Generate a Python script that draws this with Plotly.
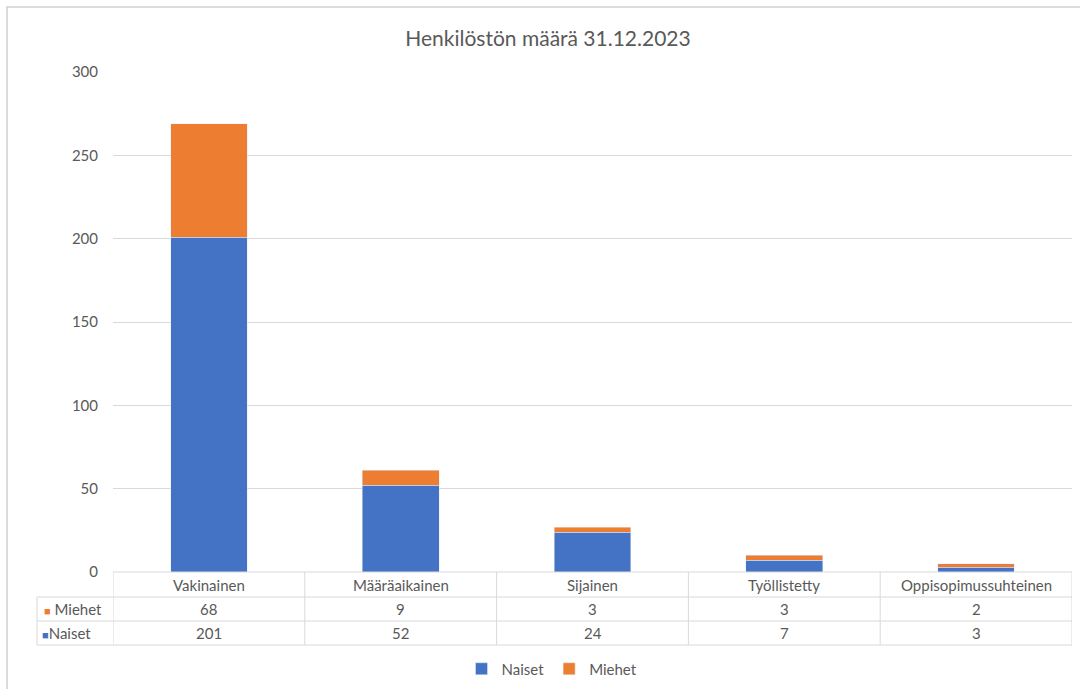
import plotly.graph_objects as go

categories = ["Vakinainen", "Määräaikainen", "Sijainen", "Työllistetty", "Oppisopimussuhteinen"]
naiset = [201, 52, 24, 7, 3]
miehet = [68, 9, 3, 3, 2]
y_ticks = [0, 50, 100, 150, 200, 250, 300]

W, H = 1080, 689
BLUE = "#4472C4"
ORANGE = "#ED7D31"
TEXT = "#595959"
LINE = "#d9d9d9"
FONT = "Lato"


def px(x):
    return x / W


def py(y):
    return 1 - y / H


fig = go.Figure()
fig.add_trace(go.Bar(x=categories, y=naiset, name="Naiset", marker_color=BLUE))
fig.add_trace(go.Bar(x=categories, y=miehet, name="Miehet", marker_color=ORANGE))

# data table under the plot
shapes = []
ann = []
table_left, plot_left, plot_right = 37, 113, 1072
row_lines = [572, 597, 621, 645]
for i, yl in enumerate(row_lines):
    x0 = plot_left if i == 0 else table_left
    shapes.append(dict(type="line", xref="paper", yref="paper", x0=px(x0), x1=px(plot_right),
                       y0=py(yl), y1=py(yl), line=dict(color=LINE, width=1)))
for i in range(len(categories) + 1):
    shapes.append(dict(type="line", xref="x", yref="paper", x0=i - 0.5, x1=i - 0.5,
                       y0=py(572), y1=py(645), line=dict(color=LINE, width=1)))
shapes.append(dict(type="line", xref="paper", yref="paper", x0=px(table_left), x1=px(table_left),
                   y0=py(597), y1=py(645), line=dict(color=LINE, width=1)))
# outer chart frame (only left and top edges fall inside the picture)
shapes.append(dict(type="rect", xref="paper", yref="paper", x0=px(7), x1=1.02,
                   y0=-0.02, y1=py(7), line=dict(color="#cfcfcf", width=1.5),
                   fillcolor="rgba(0,0,0,0)", layer="below"))

tfont = dict(size=15, color=TEXT, family=FONT)
for i, c in enumerate(categories):
    ann.append(dict(x=c, y=py(584.5), xref="x", yref="paper", yanchor="middle", text=c,
                    showarrow=False, font=tfont))
    ann.append(dict(x=c, y=py(609), xref="x", yref="paper", yanchor="middle", text=str(miehet[i]),
                    showarrow=False, font=tfont))
    ann.append(dict(x=c, y=py(633), xref="x", yref="paper", yanchor="middle", text=str(naiset[i]),
                    showarrow=False, font=tfont))

ann.append(dict(x=px(42), y=py(609), xref="paper", yref="paper", xanchor="left", yanchor="middle",
                showarrow=False, text="<span style='color:%s;font-size:11px'>■</span> Miehet" % ORANGE,
                font=tfont))
ann.append(dict(x=px(40), y=py(633), xref="paper", yref="paper", xanchor="left", yanchor="middle",
                showarrow=False, text="<span style='color:%s;font-size:11px'>■</span>Naiset" % BLUE,
                font=tfont))

fig.update_layout(
    width=W, height=H,
    margin=dict(l=0, r=0, t=0, b=0, autoexpand=False),
    paper_bgcolor="white", plot_bgcolor="white",
    barmode="stack", bargap=0.6,
    title=dict(text="Henkilöstön määrä 31.12.2023", x=px(548), xanchor="center",
               y=py(39), yanchor="middle", font=dict(size=21, color=TEXT, family=FONT)),
    showlegend=True,
    legend=dict(orientation="h", x=px(552), xanchor="center", y=py(669), yanchor="middle",
                font=dict(size=15, color=TEXT, family=FONT), traceorder="normal", itemwidth=30),
    shapes=shapes, annotations=ann,
    hovermode=False,
)
fig.update_xaxes(domain=[px(plot_left), px(plot_right)], range=[-0.5, 4.5],
                 showticklabels=False, showgrid=False, zeroline=False, showline=False)
fig.update_yaxes(domain=[py(572), py(72)], range=[0, 300], tickvals=y_ticks,
                 showgrid=True, gridcolor=LINE, gridwidth=1, zeroline=False, showline=False,
                 ticks="", ticklabelstandoff=14,
                 tickfont=dict(size=15, color=TEXT, family=FONT))

fig.write_html("out.html", config={"displayModeBar": False},
               post_script="document.body.style.margin='0';")
